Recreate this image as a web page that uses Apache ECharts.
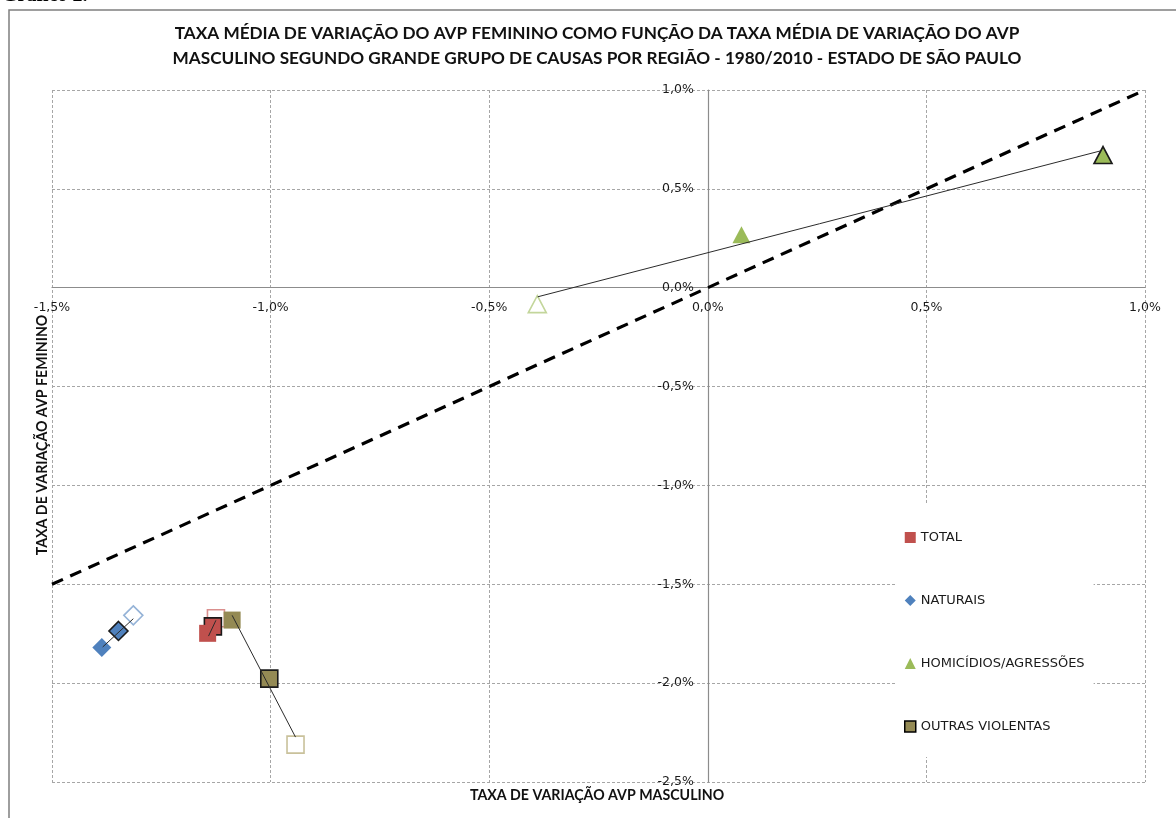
<!DOCTYPE html>
<html>
<head>
<meta charset="utf-8">
<script src="https://cdn.jsdelivr.net/npm/echarts@6/dist/echarts.min.js"></script>
<style>
  html, body { margin: 0; padding: 0; background: #fff; }
  #chart { width: 1176px; height: 818px; }
</style>
</head>
<body>
<div id="chart"></div>
<script>
(function (window) {
  'use strict';

  // eixo X = taxa masculina (%), eixo Y = taxa feminina (%)
  var categories = ['TOTAL', 'NATURAIS', 'HOMICÍDIOS/AGRESSÕES', 'OUTRAS VIOLENTAS'];

  // três pontos por grupo, na ordem: vazado, contornado, cheio
  var totalPts = [[-1.125, -1.672], [-1.132, -1.713], [-1.144, -1.748]];
  var naturaisPts = [[-1.314, -1.657], [-1.348, -1.736], [-1.386, -1.820]];
  var homicidiosPts = [[-0.390, -0.083], [0.904, 0.671], [0.077, 0.268]];
  var outrasPts = [[-0.943, -2.311], [-1.003, -1.977], [-1.088, -1.681]];

  // segmentos que ligam os pontos de cada grupo
  var totalSeg = [[-1.142, -1.762], [-1.125, -1.682]];
  var naturaisSeg = [[-1.384, -1.817], [-1.314, -1.674]];
  var homicidiosSeg = [[-0.389, -0.046], [0.900, 0.693]];
  var outrasSeg = [[-1.088, -1.657], [-0.943, -2.273]];

  // reta de igualdade (y = x)
  var bissetriz = [[-1.5, -1.5], [1.0, 1.0]];

  var xMin = -1.5, xMax = 1.0;
  var yMin = -2.5, yMax = 1.0;
  var tickStep = 0.5;

  var colors = ['#C0504D', '#4F81BD', '#9BBB59', '#948A54'];
  var lightColors = ['#DA8F8D', '#95B3D7', '#C3D69B', '#C9C19B'];
  var symbols = ['rect', 'diamond', 'triangle', 'rect'];
  var sizes = [17, 19, [18, 17], 17];

  var font = 'DejaVu Sans, sans-serif';
  var titleFont = 'Lato, Open Sans, sans-serif';

  var W = 1176, H = 818;
  var gridL = 52, gridR = 31, gridT = 90, gridB = 36;
  var plotW = W - gridL - gridR;
  var plotH = H - gridT - gridB;

  // eixos cruzam no zero: deslocamento a partir da borda do grid
  var yAxisOffset = -((0 - xMin) / (xMax - xMin)) * plotW;
  var xAxisOffset = -((0 - yMin) / (yMax - yMin)) * plotH;

  function pct(v) {
    return v.toFixed(1).replace('.', ',') + '%';
  }

  function pointItems(points, i) {
    return [
      { value: points[0], itemStyle: { color: '#fff', borderColor: lightColors[i], borderWidth: 1.6 } },
      { value: points[1], itemStyle: { color: colors[i], borderColor: '#1a1a1a', borderWidth: 1.6 } },
      { value: points[2], itemStyle: { color: colors[i], borderWidth: 0 } }
    ];
  }

  var groups = [totalPts, naturaisPts, homicidiosPts, outrasPts];
  var segments = [totalSeg, naturaisSeg, homicidiosSeg, outrasSeg];

  var series = [];

  series.push({
    type: 'line',
    data: bissetriz,
    symbol: 'none',
    silent: true,
    z: 2,
    lineStyle: { color: '#000', width: 3.2, type: [12, 8], cap: 'butt' }
  });

  groups.forEach(function (pts, i) {
    series.push({
      name: categories[i],
      type: 'scatter',
      data: pointItems(pts, i),
      symbol: symbols[i],
      symbolSize: sizes[i],
      itemStyle: { color: colors[i], opacity: 1 },
      z: 3
    });
  });

  segments.forEach(function (seg) {
    series.push({
      type: 'line',
      data: seg,
      symbol: 'none',
      silent: true,
      z: 4,
      lineStyle: { color: '#2b2b2b', width: 1 }
    });
  });

  var legendData = categories.map(function (name, i) {
    var item = { name: name, icon: symbols[i] };
    if (i === 3) {
      item.itemStyle = { color: colors[i], borderColor: '#000', borderWidth: 1.5, opacity: 1 };
    } else {
      item.itemStyle = { color: colors[i], borderWidth: 0, opacity: 1 };
    }
    return item;
  });

  var chart = echarts.init(document.getElementById('chart'), null, { renderer: 'canvas' });

  var labelStyle = {
    formatter: pct,
    color: '#1a1a1a',
    fontFamily: font,
    fontSize: 12.5,
    showMinLabel: true,
    showMaxLabel: true
  };

  chart.setOption({
    animation: false,
    backgroundColor: '#fff',
    grid: { left: gridL, right: gridR, top: gridT, bottom: gridB, containLabel: false },
    xAxis: {
      type: 'value',
      min: xMin,
      max: xMax,
      interval: tickStep,
      offset: xAxisOffset,
      axisLine: { onZero: false, lineStyle: { color: '#8c8c8c', width: 1.2 } },
      axisTick: { show: false },
      axisLabel: Object.assign({ margin: 14 }, labelStyle),
      splitLine: { show: true, lineStyle: { color: '#a6a6a6', type: [3, 2], width: 1 } }
    },
    yAxis: {
      type: 'value',
      min: yMin,
      max: yMax,
      interval: tickStep,
      offset: yAxisOffset,
      axisLine: { onZero: false, lineStyle: { color: '#8c8c8c', width: 1.2 } },
      axisTick: { show: false },
      axisLabel: Object.assign({ margin: 14 }, labelStyle),
      splitLine: { show: true, lineStyle: { color: '#a6a6a6', type: [3, 2], width: 1 } }
    },
    legend: {
      orient: 'vertical',
      left: 897,
      top: 503,
      data: legendData,
      selectedMode: false,
      backgroundColor: '#fff',
      padding: [28, 9, 24, 7],
      itemWidth: 11,
      itemHeight: 11,
      itemGap: 50,
      textStyle: { color: '#1a1a1a', fontFamily: font, fontSize: 13, lineHeight: 13 }
    },
    graphic: [
      {
        type: 'rect',
        shape: { x: 9, y: 10, width: 1400, height: 1000 },
        style: { fill: 'none', stroke: '#7f7f7f', lineWidth: 1.5 },
        silent: true,
        z: -1
      },
      {
        type: 'text',
        x: 2,
        y: 6,
        style: {
          text: 'Gráfico 2.',
          font: 'bold 20px "Liberation Serif", serif',
          fill: '#000',
          verticalAlign: 'bottom'
        }
      },
      {
        type: 'text',
        x: 597,
        y: 45.5,
        style: {
          text: 'TAXA MÉDIA DE VARIAÇÃO DO AVP FEMININO COMO FUNÇÃO DA TAXA MÉDIA DE VARIAÇÃO DO AVP\nMASCULINO SEGUNDO GRANDE GRUPO DE CAUSAS POR REGIÃO - 1980/2010 - ESTADO DE SÃO PAULO',
          font: 'bold 17.2px ' + titleFont,
          fill: '#111',
          align: 'center',
          verticalAlign: 'middle',
          lineHeight: 25
        }
      },
      {
        type: 'text',
        x: 597,
        y: 795,
        style: {
          text: 'TAXA DE VARIAÇÃO AVP MASCULINO',
          font: 'bold 14.2px ' + titleFont,
          fill: '#111',
          align: 'center',
          verticalAlign: 'middle'
        }
      },
      {
        type: 'text',
        x: 42,
        y: 435,
        rotation: Math.PI / 2,
        style: {
          text: 'TAXA DE VARIAÇÃO AVP FEMININO',
          font: 'bold 14.2px ' + titleFont,
          fill: '#111',
          align: 'center',
          verticalAlign: 'middle'
        }
      }
    ],
    series: series
  });

  window.addEventListener('resize', function () {
    chart.resize();
  });
})(window);
</script>
</body>
</html>
